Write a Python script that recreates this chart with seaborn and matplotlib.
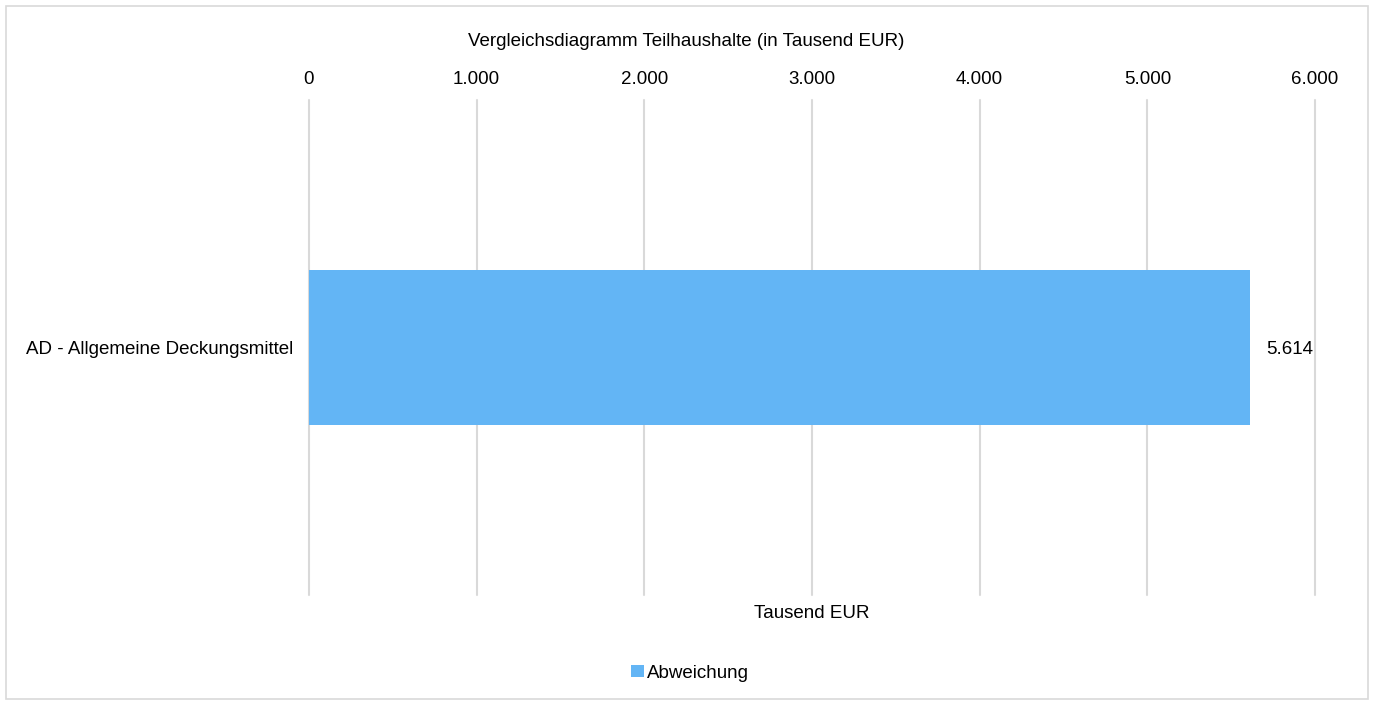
import matplotlib
matplotlib.use("Agg")
import matplotlib.pyplot as plt
import seaborn as sns
import pandas as pd
from matplotlib.patches import Rectangle
from matplotlib.ticker import FuncFormatter

categories = ["AD - Allgemeine Deckungsmittel"]
values = [5614]
series_name = "Abweichung"
title = "Vergleichsdiagramm Teilhaushalte (in Tausend EUR)"
xlabel = "Tausend EUR"
xticks = [0, 1000, 2000, 3000, 4000, 5000, 6000]

sns.set_style("white")
plt.rcParams['font.family'] = ['Liberation Sans', 'DejaVu Sans']
plt.rcParams['text.color'] = '#000000'

FS = 13.5

df = pd.DataFrame({"cat": categories, "val": values, "series": [series_name] * len(values)})

fig = plt.figure(figsize=(13.74, 7.04), dpi=100)
ax = fig.add_axes([309/1374, 1 - 595/704, (1315-309)/1374, (595-100)/704])

color = "#63B5F5"
sns.barplot(data=df, x="val", y="cat", hue="series", palette=[color], orient="h",
            width=0.313, ax=ax, legend=False, saturation=1, linewidth=0)

ax.set_xlim(0, 6000)
ax.set_ylim(0.5, -0.5)
ax.set_xticks(xticks)
fmt = FuncFormatter(lambda v, p: f"{int(v):,}".replace(",", "."))
ax.xaxis.set_major_formatter(fmt)
ax.xaxis.tick_top()
ax.tick_params(axis="x", length=0, pad=9, labelsize=FS, colors="#000000")
ax.tick_params(axis="y", length=0, pad=11.5, labelsize=FS, colors="#000000")
ax.grid(axis="x", color="#d9d9d9", linewidth=1.5)
for gl in ax.get_xgridlines():
    gl.set_clip_on(False)
ax.set_axisbelow(True)
for s in ax.spines.values():
    s.set_visible(False)
ax.set_ylabel("")
ax.set_xlabel(xlabel, fontsize=FS, color="#000000")
ax.xaxis.set_label_position("bottom")
ax.xaxis.labelpad = 7

for i, v in enumerate(values):
    ax.annotate(f"{v:,}".replace(",", "."), xy=(v, i), xytext=(16, -2),
                textcoords="offset pixels", va="center", ha="left", fontsize=FS,
                color="#000000")

fig.text(686/1374, 1 - 41/704, title, ha="center", va="center", fontsize=FS,
         color="#000000")

handle = Rectangle((0, 0), 1, 1, facecolor=color, edgecolor="none")
leg = fig.legend([handle], [series_name], loc="center", bbox_to_anchor=(690/1374, 1 - 673/704),
                 frameon=False, fontsize=FS, handlelength=0.65, handleheight=0.65,
                 handletextpad=0.15)
for t in leg.get_texts():
    t.set_color("#000000")

fig.patches.append(Rectangle((6/1374, 5/704), (1368-6)/1374, (698-5)/704,
                             transform=fig.transFigure, fill=False,
                             edgecolor="#d9d9d9", linewidth=1.2))

fig.savefig("out.png", dpi=100)
